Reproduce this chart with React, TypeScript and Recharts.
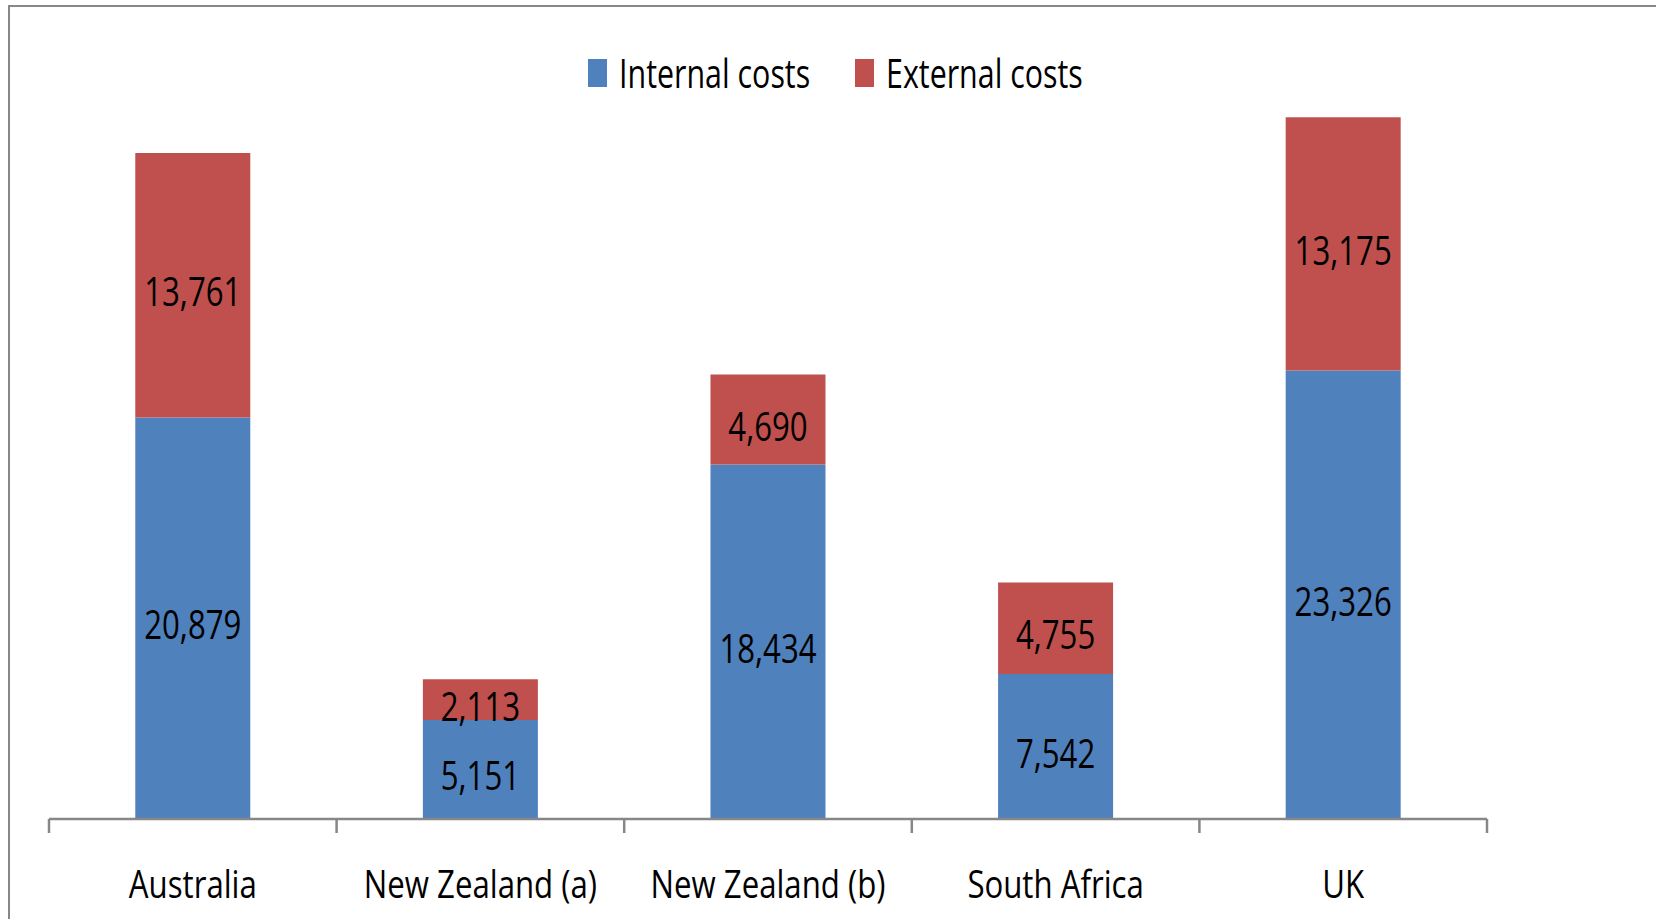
import React from 'react';
import { BarChart, Bar, XAxis, YAxis, LabelList } from 'recharts';

const categories = ['Australia', 'New Zealand (a)', 'New Zealand (b)', 'South Africa', 'UK'];
const internalCosts = [20879, 5151, 18434, 7542, 23326];
const externalCosts = [13761, 2113, 4690, 4755, 13175];
const seriesNames = ['Internal costs', 'External costs'];
const seriesColors = ['#4F81BD', '#C0504D'];

const data = categories.map((c, i) => ({
  name: c,
  internal: internalCosts[i],
  external: externalCosts[i],
}));

const W = 1656;
const H = 919;
const MARGIN = { top: 50, right: 169, bottom: 0, left: 49 };
const FONT = '"Open Sans", "Noto Sans", sans-serif';
const SX = 0.76;
const SX_CAT = 0.8;
const AXIS_COLOR = '#878787';
const TICK_LEN = 14;

const fmt = (v: number) => v.toLocaleString('en-US');

const CategoryTick = (props: any) => {
  const { x, y, payload, index, visibleTicksCount } = props;
  const count = visibleTicksCount || categories.length;
  const axisWidth = typeof props.width === 'number' && props.width > 0 ? props.width : W - MARGIN.left - MARGIN.right;
  const half = axisWidth / count / 2;
  return (
    <g>
      <line x1={x - half} x2={x - half} y1={y} y2={y + TICK_LEN} stroke={AXIS_COLOR} strokeWidth={2.5} />
      {index === count - 1 && (
        <line x1={x + half} x2={x + half} y1={y} y2={y + TICK_LEN} stroke={AXIS_COLOR} strokeWidth={2.5} />
      )}
      <g transform={`translate(${x},${y + 79}) scale(${SX_CAT},1)`}>
        <text x={0} y={0} textAnchor="middle" fill="#000" fontSize={39} fontFamily={FONT}>
          {payload.value}
        </text>
      </g>
    </g>
  );
};

const SegmentLabel = (props: any) => {
  const { x, y, width, height, value } = props;
  const cx = x + width / 2;
  const cy = y + height / 2 + 21;
  return (
    <g transform={`translate(${cx},${cy}) scale(${SX},1)`}>
      <text x={0} y={0} textAnchor="middle" fill="#000" fontSize={41} fontFamily={FONT}>
        {fmt(value)}
      </text>
    </g>
  );
};

const legendX = [588, 855];

const LegendOverlay = () => (
  <svg width={W} height={110} style={{ position: 'absolute', left: 0, top: 0 }}>
    {seriesNames.map((n, i) => (
      <g key={n}>
        <rect x={legendX[i]} y={59} width={19} height={28} fill={seriesColors[i]} />
        <g transform={`translate(${legendX[i] + 31},88) scale(${SX},1)`}>
          <text x={0} y={0} fill="#000" fontSize={40} fontFamily={FONT}>
            {n}
          </text>
        </g>
      </g>
    ))}
  </svg>
);

export default function App() {
  return (
    <div
      style={{
        position: 'absolute',
        left: 0,
        top: 0,
        width: W,
        height: H,
        overflow: 'hidden',
        background: '#fff',
        fontFamily: FONT,
      }}
    >
      <div
        style={{
          position: 'absolute',
          left: 8,
          top: 5,
          width: 3000,
          height: 3000,
          borderTop: `2.5px solid ${AXIS_COLOR}`,
          borderLeft: `2.5px solid ${AXIS_COLOR}`,
        }}
      />
      <div style={{ position: 'absolute', left: 0, top: 0 }}>
        <BarChart width={W} height={H} data={data} margin={MARGIN} barCategoryGap="30%">
          <XAxis
            dataKey="name"
            height={100}
            axisLine={{ stroke: AXIS_COLOR, strokeWidth: 2.5 }}
            tickLine={false}
            tickSize={0}
            tickMargin={0}
            interval={0}
            tick={<CategoryTick />}
          />
          <YAxis hide domain={[0, 40000]} />
          <Bar dataKey="internal" name={seriesNames[0]} stackId="a" fill={seriesColors[0]} isAnimationActive={false}>
            <LabelList dataKey="internal" content={<SegmentLabel />} />
          </Bar>
          <Bar dataKey="external" name={seriesNames[1]} stackId="a" fill={seriesColors[1]} isAnimationActive={false}>
            <LabelList dataKey="external" content={<SegmentLabel />} />
          </Bar>
        </BarChart>
      </div>
      <LegendOverlay />
    </div>
  );
}
